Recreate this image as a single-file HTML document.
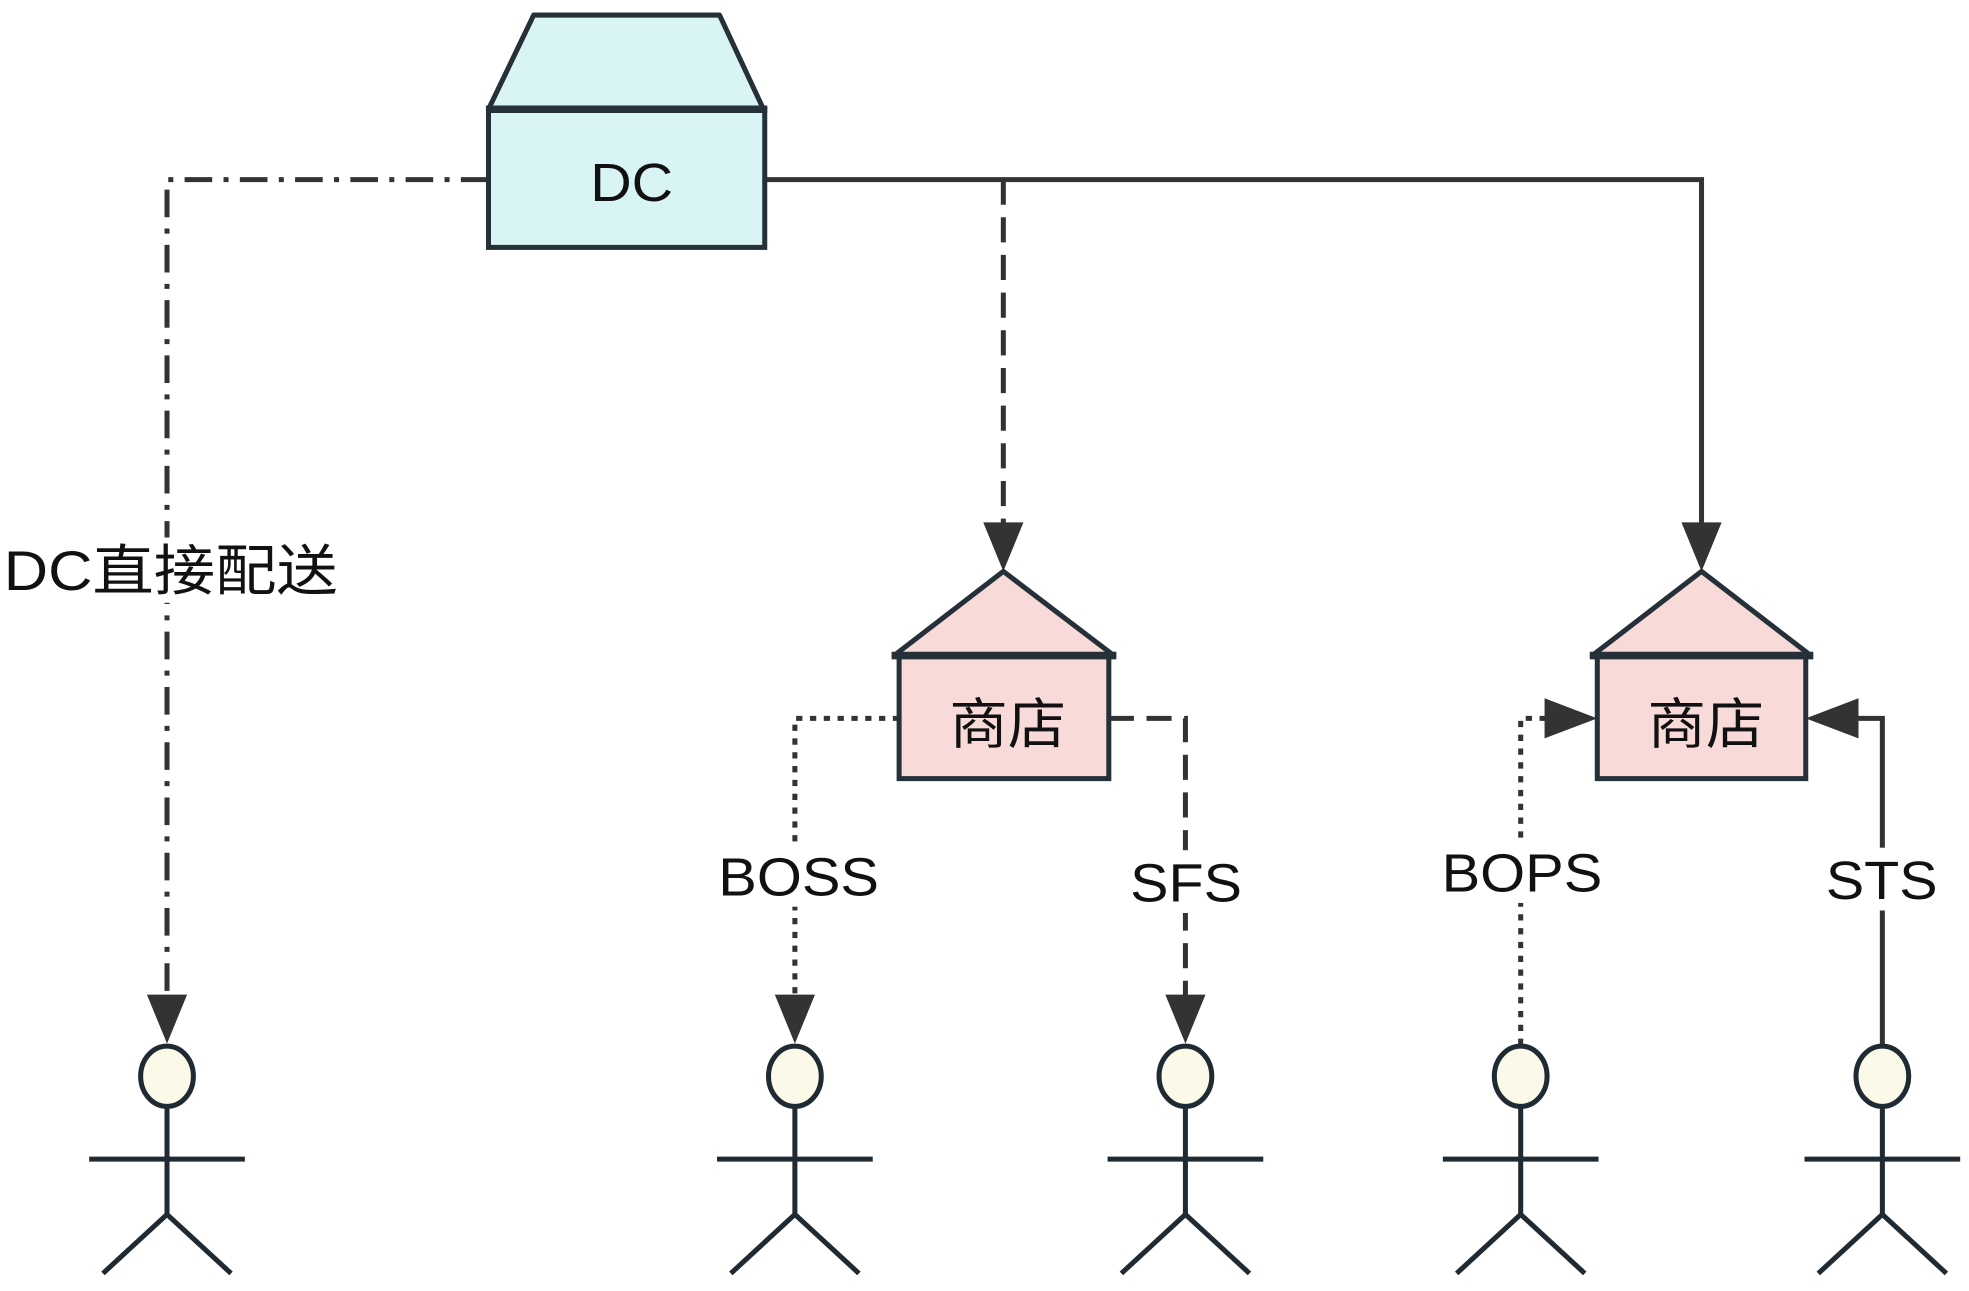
<!DOCTYPE html>
<html><head><meta charset="utf-8"><style>
html,body{margin:0;padding:0;background:#fff;}
svg{display:block;}
text{font-family:"Liberation Sans","Noto Sans CJK SC",sans-serif;fill:#111;}
</style></head><body>
<svg width="1969" height="1291" viewBox="0 0 1568 1028" preserveAspectRatio="none" xmlns="http://www.w3.org/2000/svg">
<defs>
<g id="fig">
<line x1="0" y1="881" x2="0" y2="967" stroke="#1f2a33" stroke-width="4"/>
<line x1="-62" y1="923" x2="62" y2="923" stroke="#1f2a33" stroke-width="4"/>
<polyline points="-51,1014 0,967 51,1014" fill="none" stroke="#1f2a33" stroke-width="4"/>
<ellipse cx="0" cy="857" rx="21" ry="24" fill="#fbf9e8" stroke="#1f2a33" stroke-width="4"/>
</g>
</defs>
<g stroke="#333" stroke-width="4" fill="none">
<polyline points="389,143 133,143 133,800" stroke-dasharray="22,9,4,9"/>
<polyline points="609,143 1355,143 1355,420"/>
<polyline points="799,143 799,420" stroke-dasharray="20,10"/>
<polyline points="716,572 633,572 633,800" stroke-dasharray="5,6"/>
<polyline points="883,572 944,572 944,800" stroke-dasharray="20,10"/>
<polyline points="1211,832 1211,572 1235,572" stroke-dasharray="5,6"/>
<polyline points="1499,832 1499,572 1470,572"/>
</g>
<g fill="#333">
<polygon points="117,792 149,792 133,831"/>
<polygon points="617,792 649,792 633,831"/>
<polygon points="928,792 960,792 944,831"/>
<polygon points="783,416 815,416 799,455"/>
<polygon points="1339,416 1371,416 1355,455"/>
<polygon points="1230,556 1230,588 1272,572"/>
<polygon points="1480,556 1480,588 1438,572"/>
</g>
<polygon points="425,12 573,12 608,87 389,87" fill="#d9f4f4" stroke="#253038" stroke-width="4" stroke-linejoin="round"/>
<rect x="389" y="87" width="220" height="110" fill="#d9f4f4" stroke="#253038" stroke-width="4"/>
<line x1="387" y1="87" x2="611" y2="87" stroke="#253038" stroke-width="6"/>
<text x="470" y="160" font-size="43" textLength="66" lengthAdjust="spacingAndGlyphs">DC</text>
<polygon points="799,455 887,522 712,522" fill="#f8dbd8" stroke="#253038" stroke-width="4" stroke-linejoin="round"/>
<rect x="716" y="522" width="167" height="98" fill="#f8dbd8" stroke="#253038" stroke-width="4"/>
<line x1="710" y1="522" x2="889" y2="522" stroke="#253038" stroke-width="6"/>
<text x="756" y="592" font-size="44" textLength="93" lengthAdjust="spacingAndGlyphs">商店</text>
<polygon points="1355,455 1442,522 1268,522" fill="#f8dbd8" stroke="#253038" stroke-width="4" stroke-linejoin="round"/>
<rect x="1272" y="522" width="166" height="98" fill="#f8dbd8" stroke="#253038" stroke-width="4"/>
<line x1="1266" y1="522" x2="1444" y2="522" stroke="#253038" stroke-width="6"/>
<text x="1312" y="592" font-size="44" textLength="93" lengthAdjust="spacingAndGlyphs">商店</text>
<rect x="2" y="428" width="268" height="52" fill="#fff"/>
<text x="3" y="470" font-size="44" textLength="266" lengthAdjust="spacingAndGlyphs">DC直接配送</text>
<rect x="570" y="672" width="132" height="50" fill="#fff"/>
<text x="572" y="713" font-size="43" textLength="128" lengthAdjust="spacingAndGlyphs">BOSS</text>
<rect x="898" y="677" width="92" height="50" fill="#fff"/>
<text x="900" y="718" font-size="43" textLength="89" lengthAdjust="spacingAndGlyphs">SFS</text>
<rect x="1146" y="669" width="132" height="50" fill="#fff"/>
<text x="1148" y="710" font-size="43" textLength="128" lengthAdjust="spacingAndGlyphs">BOPS</text>
<rect x="1452" y="675" width="92" height="50" fill="#fff"/>
<text x="1454" y="716" font-size="43" textLength="89" lengthAdjust="spacingAndGlyphs">STS</text>
<use href="#fig" x="133"/>
<use href="#fig" x="633"/>
<use href="#fig" x="944"/>
<use href="#fig" x="1211"/>
<use href="#fig" x="1499"/>
</svg>
</body></html>
